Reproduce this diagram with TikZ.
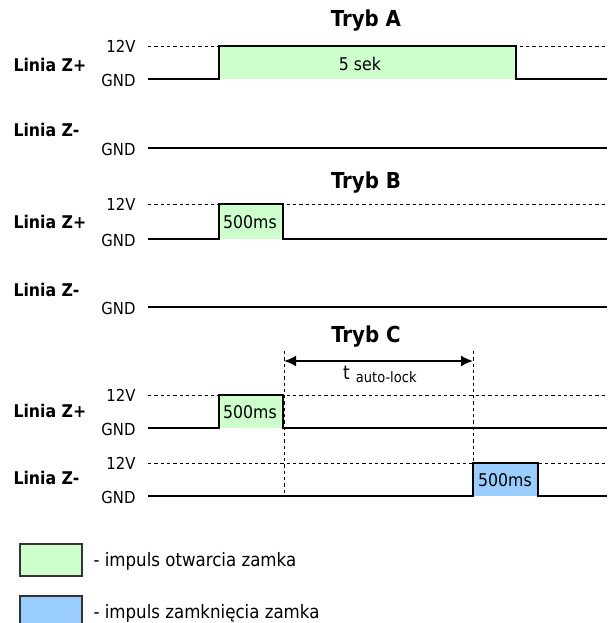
\documentclass[tikz,border=0pt]{standalone}
\usepackage{fontspec}
\setmainfont{DejaVu Sans Condensed}
\usetikzlibrary{arrows.meta}
\definecolor{opengreen}{HTML}{CCFFCC}
\definecolor{closeblue}{HTML}{99CCFF}
\definecolor{boxedge}{HTML}{333333}
\begin{document}
\begin{tikzpicture}[x=1pt,y=-1pt,
  sig/.style={line width=2.6pt, line join=miter},
  lvl/.style={line width=0.8pt, dash pattern=on 3.3pt off 3pt},
  title/.style={font=\fontsize{22}{24}\selectfont\bfseries},
  line/.style={font=\fontsize{17.5}{20}\selectfont\bfseries, anchor=west},
  vlab/.style={font=\fontsize{16.5}{18}\selectfont, anchor=east},
  plab/.style={font=\fontsize{17.5}{20}\selectfont},
  legtxt/.style={font=\fontsize{18.5}{20}\selectfont, anchor=west},
  legbox/.style={draw=boxedge, line width=1.2pt}]
\useasboundingbox (0,0) rectangle (607,623);

% ---------- Tryb A ----------
\node[title] (tA) at (366,21) {Tryb A};
\fill[opengreen] (219,46) rectangle (516,79);
\draw[lvl] (148,46) -- (607,46);
\draw[sig] (148,79) -- (219,79) -- (219,46) -- (516,46) -- (516,79) -- (607,79);
\node[plab] (pA) at (360,64) {5 sek};
\node[line] (lA1) at (10,65) {Linia Z+};
\node[vlab] (vA1) at (139,46) {12V};
\node[vlab] (gA1) at (139,80) {GND};
\node[line] (lA2) at (10,130) {Linia Z-};
\node[vlab] (gA2) at (139,149) {GND};
\draw[sig] (148,148) -- (607,148);

% ---------- Tryb B ----------
\node[title] (tB) at (366,183) {Tryb B};
\fill[opengreen] (219,204) rectangle (283,239);
\draw[lvl] (148,204) -- (607,204);
\draw[sig] (148,239) -- (219,239) -- (219,204) -- (283,204) -- (283,239) -- (607,239);
\node[plab] (pB) at (250,222) {500ms};
\node[line] (lB1) at (10,222) {Linia Z+};
\node[vlab] (vB1) at (139,204) {12V};
\node[vlab] (gB1) at (139,240) {GND};
\node[line] (lB2) at (10,290) {Linia Z-};
\node[vlab] (gB2) at (139,308) {GND};
\draw[sig] (148,307) -- (607,307);

% ---------- Tryb C ----------
\node[title] (tC) at (366,337) {Tryb C};
\fill[opengreen] (219,395) rectangle (283,428);
\fill[closeblue] (473,463) rectangle (538,496);
\draw[lvl] (148,395) -- (607,395);
\draw[lvl] (148,463) -- (607,463);
\coordinate (d1t) at (284,351);
\coordinate (d1b) at (284,493);
\coordinate (d2t) at (473,351);
\coordinate (d2b) at (473,493);
\draw[lvl] (d1t) -- (d1b);
\draw[lvl] (d2t) -- (d2b);
\coordinate (a1) at (284,361);
\coordinate (a2) at (473,361);
\draw[line width=1.8pt, {Latex[length=12pt,width=11pt]}-{Latex[length=12pt,width=11pt]}] (a1) -- (a2);
\node[anchor=base west, inner sep=0pt] (tal) at (343,379) {\fontsize{19}{20}\selectfont t\hspace{6pt}\raisebox{-3pt}{\fontsize{14.5}{16}\selectfont auto-lock}};
\draw[sig] (148,428) -- (219,428) -- (219,395) -- (283,395) -- (283,428) -- (607,428);
\draw[sig] (148,496) -- (473,496) -- (473,463) -- (538,463) -- (538,496) -- (607,496);
\node[plab] (pC1) at (250,412) {500ms};
\node[plab] (pC2) at (505,480) {500ms};
\node[line] (lC1) at (10,411) {Linia Z+};
\node[vlab] (vC1) at (139,395) {12V};
\node[vlab] (gC1) at (139,429) {GND};
\node[line] (lC2) at (10,478) {Linia Z-};
\node[vlab] (vC2) at (139,463) {12V};
\node[vlab] (gC2) at (139,497) {GND};

% ---------- legend ----------
\draw[legbox, fill=opengreen] (20,544) rectangle (82,576);
\node[legtxt] (lg1) at (90,561) {-\ impuls otwarcia zamka};
\draw[legbox, fill=closeblue] (20,596) rectangle (82,628);
\node[legtxt] (lg2) at (90,613) {-\ impuls zamknięcia zamka};
\end{tikzpicture}
\end{document}
